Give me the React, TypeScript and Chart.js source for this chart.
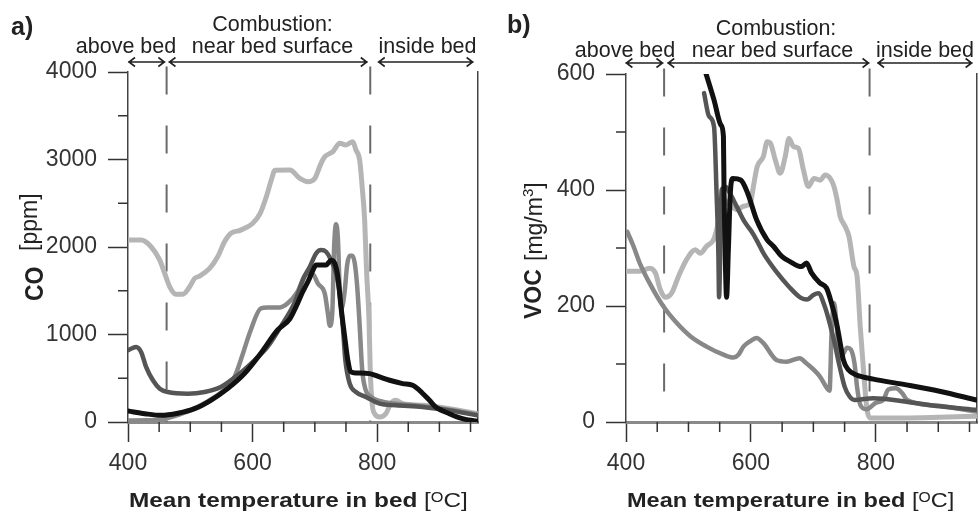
import React, { useEffect, useRef } from 'react';
import { Chart, registerables } from 'chart.js';

Chart.register(...registerables);

type Pt = [number, number];

// ---------- data ----------
const tempMin = 400;
const tempMax = 962;
const tempMajorTicks = [400, 600, 800];
const tempMinorTicks = [450, 500, 550, 650, 700, 750, 850, 900, 950];

const coMax = 4000;
const coMajorTicks = [0, 1000, 2000, 3000, 4000];
const coMinorTicks = [500, 1500, 2500, 3500];

const vocMax = 600;
const vocMajorTicks = [0, 200, 400, 600];
const vocMinorTicks = [100, 300, 500];

// zone boundaries (dashed lines) and arrows
const zoneBoundsA = [462, 789];
const zoneBoundsB = [461, 790];
const zoneArrowsA: Pt[] = [[400, 460], [465, 785], [801, 955]];
const zoneArrowsB: Pt[] = [[399, 460], [466, 790], [802, 955]];

// panel a) CO [ppm]
const coBlack: Pt[] = [
  [400, 126], [427, 95], [453, 76], [480, 100], [507, 152], [533, 248], [560, 381], [587, 553],
  [613, 782], [640, 1049], [660, 1180], [670, 1320], [680, 1480], [690, 1620], [697, 1735],
  [702, 1793], [718, 1793], [726, 1850], [732, 1812], [737, 1659], [742, 1316], [748, 972],
  [753, 705], [758, 572], [766, 561], [788, 553], [804, 515], [820, 477], [841, 439], [857, 420],
  [868, 362], [884, 248], [894, 172], [916, 95], [937, 38], [961, 8],
];
const coDark: Pt[] = [
  [400, 820], [413, 858], [421, 801], [429, 630], [440, 477], [451, 381], [464, 343], [496, 324],
  [523, 343], [549, 400], [576, 534], [603, 705], [624, 858], [645, 1087], [667, 1354], [683, 1660],
  [692, 1774], [702, 1926], [710, 1965], [718, 1946], [726, 1850], [734, 1697], [740, 1468],
  [745, 1087], [749, 705], [756, 438], [766, 343], [782, 286], [804, 210], [830, 191], [873, 172],
  [916, 133], [961, 76],
];
const coMedium: Pt[] = [
  [400, 18], [430, 20], [455, 30], [480, 80], [505, 150], [530, 245], [555, 370], [571, 515],
  [581, 706], [597, 1049], [613, 1297], [624, 1309], [643, 1309], [656, 1354], [672, 1488],
  [683, 1660], [689, 1700], [697, 1690], [705, 1581], [716, 1467], [721, 1238], [724, 1100],
  [728, 1250], [731, 2000], [734, 2260], [737, 2100], [740, 1500], [743, 1300], [748, 1500],
  [752, 1800], [756, 1900], [760, 1900], [764, 1820], [768, 1550], [772, 1100], [776, 600],
  [781, 380], [790, 290], [804, 240], [830, 210], [873, 180], [916, 140], [961, 85],
];
const coLight: Pt[] = [
  [400, 2079], [421, 2079], [437, 2003], [451, 1850], [459, 1698], [467, 1545], [477, 1461],
  [488, 1461], [499, 1545], [507, 1641], [515, 1667], [531, 1755], [544, 1888], [555, 2060],
  [565, 2155], [581, 2193], [600, 2269], [612, 2381], [622, 2572], [630, 2762], [636, 2877],
  [660, 2879], [676, 2784], [689, 2746], [700, 2784], [710, 2956], [716, 3032], [729, 3090],
  [740, 3185], [750, 3166], [761, 3204], [766, 3109], [772, 2994], [776, 2689], [780, 2307],
  [783, 1735], [787, 1163], [789, 591], [792, 210], [796, 95], [804, 57], [814, 95], [822, 210],
  [830, 248], [841, 210], [873, 191], [916, 153], [961, 95],
];

// panel b) VOC [mg/m3]
const vocBlack: Pt[] = [
  [528, 601], [541, 555], [552, 512], [556, 492], [557, 395], [559, 280], [561, 215], [564, 300],
  [567, 394], [571, 420], [584, 417], [595, 394], [609, 349], [626, 314], [636, 303], [650, 285],
  [662, 277], [681, 268], [689, 274], [697, 257], [710, 240], [721, 231], [729, 205], [737, 171],
  [742, 142], [748, 107], [756, 90], [769, 81], [796, 74], [849, 64], [902, 53], [961, 38],
];
const vocDark: Pt[] = [
  [525, 567], [533, 527], [541, 509], [545, 395], [548, 285], [549, 215], [551, 300], [553, 400],
  [560, 405], [566, 395], [578, 370], [590, 345], [600, 330], [610, 312], [620, 291], [640, 260],
  [662, 232], [680, 214], [690, 211], [700, 219], [708, 222], [718, 200], [726, 171], [734, 136],
  [742, 96], [750, 61], [758, 44], [766, 38], [796, 41], [849, 35], [902, 27], [961, 21],
];
const vocMedium: Pt[] = [
  [402, 328], [412, 303], [422, 274], [438, 239], [460, 199], [481, 171], [503, 148], [529, 130],
  [556, 116], [572, 111], [580, 116], [588, 130], [600, 140], [609, 145], [620, 136], [641, 107],
  [657, 104], [678, 110], [689, 101], [710, 79], [722, 58], [726, 54], [729, 150], [733, 205],
  [737, 170], [742, 110], [748, 118], [754, 128], [760, 125], [766, 100], [770, 60], [775, 30],
  [785, 22], [800, 33], [812, 38], [820, 56], [832, 58], [842, 50], [850, 38], [900, 28], [961, 18],
];
const vocLight: Pt[] = [
  [402, 260], [422, 260], [438, 265], [447, 257], [455, 228], [463, 215], [473, 222], [484, 251],
  [497, 280], [511, 297], [519, 291], [529, 303], [540, 314], [545, 331], [551, 360], [556, 383],
  [564, 377], [578, 366], [588, 372], [599, 377], [604, 406], [610, 440], [620, 458], [626, 483],
  [631, 481], [639, 452], [647, 429], [655, 458], [661, 489], [668, 475], [676, 472], [684, 435],
  [692, 406], [701, 420], [711, 417], [719, 426], [727, 420], [733, 406], [738, 383], [743, 354],
  [751, 337], [757, 320], [765, 268], [770, 251], [775, 165], [781, 79], [786, 21], [791, 7],
  [824, 7], [962, 10],
];

// ---------- styling ----------
const FONT = "'Liberation Sans', Arial, Helvetica, sans-serif";
const C_BLACK = '#111111';
const C_DARK = '#555555';
const C_MED = '#888888';
const C_LIGHT = '#b5b5b5';
const C_TEXT = '#222222';

type Piece = { t: string; font: string; dy?: number };
type YPiece = { t: string; font: string; start: number; base: number; sy: number; dy?: number }[];

interface PanelCfg {
  left: number;
  width: number;
  yMax: number;
  yMajor: number[];
  yMinor: number[];
  axisWidth: number;
  padRight: number;
  padTop: number;
  series: { data: Pt[]; color: string; width: number }[];
  bounds: number[];
  arrows: Pt[];
  arrowY: number;
  label: { t: string; x: number; y: number };
  combustion: { x: number; y: number };
  zoneText: { t: string; x: number }[];
  zoneY: number;
  yTitle: YPiece;
  xTitle: { x: number; y: number; sx: number };
}

const xTitlePieces: Piece[] = [
  { t: 'Mean temperature in bed', font: `bold 21px ${FONT}` },
  { t: ' [', font: `21px ${FONT}` },
  { t: 'O', font: `14px ${FONT}`, dy: -5 },
  { t: 'C]', font: `21px ${FONT}` },
];

const panelA: PanelCfg = {
  left: 0,
  width: 490,
  yMax: coMax,
  yMajor: coMajorTicks,
  yMinor: coMinorTicks,
  axisWidth: 128,
  padRight: 12,
  padTop: 72,
  series: [
    { data: coBlack, color: C_BLACK, width: 5 },
    { data: coDark, color: C_DARK, width: 4.5 },
    { data: coMedium, color: C_MED, width: 4.5 },
    { data: coLight, color: C_LIGHT, width: 5 },
  ],
  bounds: zoneBoundsA,
  arrows: zoneArrowsA,
  arrowY: 62,
  label: { t: 'a)', x: 11, y: 35 },
  combustion: { x: 272.5, y: 31 },
  zoneText: [
    { t: 'above bed', x: 126 },
    { t: 'near bed surface', x: 272.5 },
    { t: 'inside bed', x: 427.5 },
  ],
  zoneY: 53,
  yTitle: [
    { t: 'CO', font: `bold 23px ${FONT}`, start: 301, base: 43, sy: 1.15 },
    { t: '[ppm]', font: `23px ${FONT}`, start: 251, base: 37, sy: 1 },
  ],
  xTitle: { x: 129, y: 507, sx: 1.16 },
};

const panelB: PanelCfg = {
  left: 490,
  width: 489,
  yMax: vocMax,
  yMajor: vocMajorTicks,
  yMinor: vocMinorTicks,
  axisWidth: 136,
  padRight: 2,
  padTop: 74,
  series: [
    { data: vocBlack, color: C_BLACK, width: 5 },
    { data: vocDark, color: C_DARK, width: 4.5 },
    { data: vocMedium, color: C_MED, width: 4.5 },
    { data: vocLight, color: C_LIGHT, width: 5 },
  ],
  bounds: zoneBoundsB,
  arrows: zoneArrowsB,
  arrowY: 63,
  label: { t: 'b)', x: 17, y: 33 },
  combustion: { x: 286, y: 35 },
  zoneText: [
    { t: 'above bed', x: 135 },
    { t: 'near bed surface', x: 282.5 },
    { t: 'inside bed', x: 435 },
  ],
  zoneY: 57,
  yTitle: [
    { t: 'VOC', font: `bold 23px ${FONT}`, start: 319, base: 51, sy: 1.05 },
    { t: '[mg/m', font: `23px ${FONT}`, start: 261, base: 52, sy: 1 },
    { t: '3', font: `15px ${FONT}`, start: 0, base: 52, sy: 1, dy: -9 },
    { t: ']', font: `23px ${FONT}`, start: 0, base: 52, sy: 1 },
  ],
  xTitle: { x: 137, y: 507, sx: 1.12 },
};

function decorPlugin(cfg: PanelCfg) {
  return {
    id: 'decor' + cfg.left,
    afterDraw(chart: any) {
      const ctx: CanvasRenderingContext2D = chart.ctx;
      const xs = chart.scales.x;
      const ys = chart.scales.y;
      ctx.save();

      // minor ticks
      ctx.strokeStyle = '#333';
      ctx.lineWidth = 1.5;
      ctx.beginPath();
      for (const v of tempMinorTicks) {
        const px = xs.getPixelForValue(v);
        ctx.moveTo(px, xs.top);
        ctx.lineTo(px, xs.top + 10);
      }
      for (const v of cfg.yMinor) {
        const py = ys.getPixelForValue(v);
        ctx.moveTo(ys.right - 10, py);
        ctx.lineTo(ys.right, py);
      }
      ctx.stroke();

      // zone arrows
      ctx.strokeStyle = '#222';
      ctx.lineWidth = 1.6;
      const y = cfg.arrowY;
      for (const [a, b] of cfg.arrows) {
        const x1 = xs.getPixelForValue(a);
        const x2 = xs.getPixelForValue(b);
        ctx.beginPath();
        ctx.moveTo(x1, y);
        ctx.lineTo(x2, y);
        ctx.moveTo(x1 + 7, y - 4.5);
        ctx.lineTo(x1 + 1, y);
        ctx.lineTo(x1 + 7, y + 4.5);
        ctx.moveTo(x2 - 7, y - 4.5);
        ctx.lineTo(x2 - 1, y);
        ctx.lineTo(x2 - 7, y + 4.5);
        ctx.stroke();
      }

      // texts
      ctx.fillStyle = C_TEXT;
      ctx.textBaseline = 'alphabetic';
      ctx.font = `bold 25px ${FONT}`;
      ctx.textAlign = 'left';
      ctx.fillText(cfg.label.t, cfg.label.x, cfg.label.y);

      ctx.font = `21.5px ${FONT}`;
      ctx.textAlign = 'center';
      ctx.fillText('Combustion:', cfg.combustion.x, cfg.combustion.y);
      for (const z of cfg.zoneText) ctx.fillText(z.t, z.x, cfg.zoneY);

      // x title
      ctx.textAlign = 'left';
      let cx = cfg.xTitle.x;
      for (const p of xTitlePieces) {
        ctx.save();
        ctx.font = p.font;
        ctx.translate(cx, cfg.xTitle.y + (p.dy || 0));
        ctx.scale(cfg.xTitle.sx, 1);
        ctx.fillText(p.t, 0, 0);
        const w = ctx.measureText(p.t).width * cfg.xTitle.sx;
        ctx.restore();
        cx += w;
      }

      // y title (rotated)
      let along = 0;
      for (const p of cfg.yTitle) {
        const startY = p.start > 0 ? p.start : along;
        ctx.save();
        ctx.font = p.font;
        ctx.translate(p.base, startY);
        ctx.rotate(-Math.PI / 2);
        ctx.scale(1, p.sy);
        ctx.fillText(p.t, 0, p.dy || 0);
        const w = ctx.measureText(p.t).width;
        ctx.restore();
        along = startY - w;
      }

      ctx.restore();
    },
  };
}

function buildConfig(cfg: PanelCfg): any {
  const datasets: any[] = cfg.series.map((s) => ({
    data: s.data.map(([x, y]) => ({ x, y })),
    borderColor: s.color,
    borderWidth: s.width,
    pointRadius: 0,
    fill: false,
    cubicInterpolationMode: 'monotone',
    borderJoinStyle: 'round',
    borderCapStyle: 'round',
  }));
  const dashTop = cfg.yMax * 1.0155;
  for (const bx of cfg.bounds) {
    datasets.push({
      data: [
        { x: bx, y: dashTop },
        { x: bx, y: 0 },
      ],
      borderColor: '#6a6a6a',
      borderWidth: 2,
      borderDash: [28, 31],
      pointRadius: 0,
      fill: false,
      tension: 0,
      clip: false,
    });
  }
  const tickFont = { family: FONT, size: 23 };
  return {
    type: 'line',
    data: { datasets },
    options: {
      animation: false,
      responsive: false,
      devicePixelRatio: 1,
      layout: { padding: { left: 0, right: cfg.padRight, top: cfg.padTop, bottom: 0 } },
      plugins: { legend: { display: false }, tooltip: { enabled: false }, title: { display: false } },
      scales: {
        x: {
          type: 'linear',
          position: 'bottom',
          min: tempMin,
          max: tempMax,
          afterFit: (s: any) => {
            s.height = 90;
          },
          afterBuildTicks: (s: any) => {
            s.ticks = tempMajorTicks.map((v) => ({ value: v }));
          },
          ticks: {
            autoSkip: false,
            maxRotation: 0,
            padding: 8,
            color: '#333',
            font: tickFont,
            callback: (v: any) => String(v),
          },
          grid: { drawOnChartArea: false, drawTicks: true, tickLength: 20, tickColor: '#333', tickWidth: 1.5 },
          border: { display: true, color: '#8a8a8a', width: 3 },
        },
        y: {
          type: 'linear',
          position: 'left',
          min: 0,
          max: cfg.yMax,
          afterFit: (s: any) => {
            s.width = cfg.axisWidth;
          },
          afterBuildTicks: (s: any) => {
            s.ticks = cfg.yMajor.map((v) => ({ value: v }));
          },
          ticks: {
            autoSkip: false,
            padding: 11,
            color: '#333',
            font: tickFont,
            callback: (v: any) => String(v),
          },
          grid: { drawOnChartArea: false, drawTicks: true, tickLength: 20, tickColor: '#333', tickWidth: 1.5 },
          border: { display: true, color: '#444', width: 1.5 },
        },
        yr: {
          type: 'linear',
          position: 'right',
          min: 0,
          max: cfg.yMax,
          afterFit: (s: any) => {
            s.width = 0;
          },
          ticks: { display: false },
          grid: { display: false },
          border: { display: true, color: '#444', width: 1.5 },
        },
      },
    },
    plugins: [decorPlugin(cfg)],
  };
}

function Panel({ cfg }: { cfg: PanelCfg }) {
  const ref = useRef<HTMLCanvasElement | null>(null);
  useEffect(() => {
    if (!ref.current) return;
    const chart = new Chart(ref.current, buildConfig(cfg));
    return () => chart.destroy();
  }, [cfg]);
  return (
    <div style={{ position: 'absolute', left: cfg.left, top: 0, width: cfg.width, height: 512 }}>
      <canvas ref={ref} width={cfg.width} height={512} style={{ display: 'block', width: cfg.width, height: 512 }} />
    </div>
  );
}

export default function App() {
  return (
    <div style={{ position: 'fixed', left: 0, top: 0, width: 979, height: 512, background: '#ffffff', overflow: 'hidden' }}>
      <Panel cfg={panelA} />
      <Panel cfg={panelB} />
    </div>
  );
}
